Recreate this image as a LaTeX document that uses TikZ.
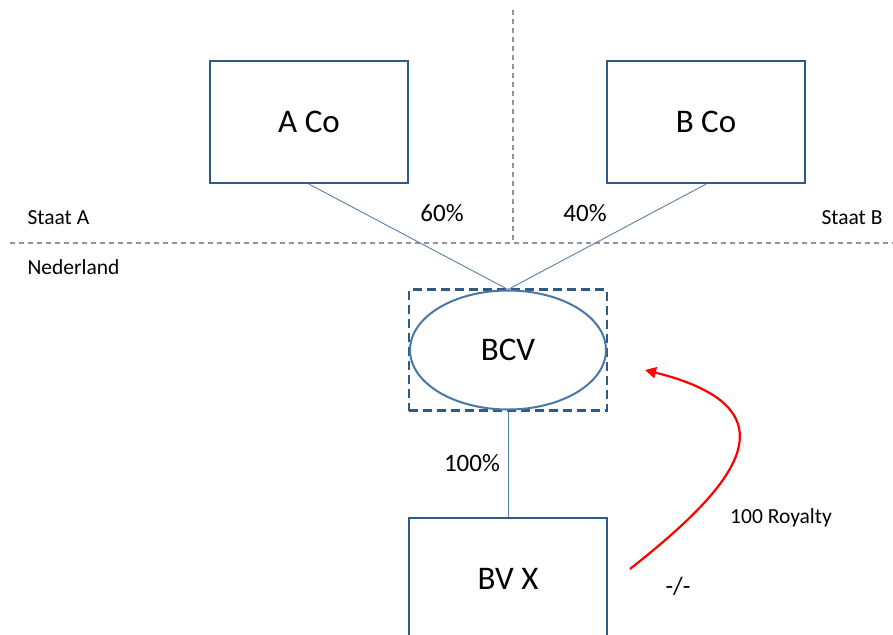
\documentclass[tikz,border=0pt]{standalone}
\usepackage{fontspec}
\setmainfont{Carlito}
\usetikzlibrary{arrows.meta,positioning,shapes}

\definecolor{boxblue}{HTML}{2F5A83}
\definecolor{ovalblue}{HTML}{4A77A6}
\definecolor{linkblue}{HTML}{5A7FA6}

\begin{document}
\begin{tikzpicture}[x=1pt,y=-1pt,thin]
\tikzstyle{company}=[draw=boxblue,line width=2.2pt,fill=white,minimum width=198pt,minimum height=122pt,font=\fontsize{33}{36}\selectfont]
\tikzstyle{border}=[draw=gray!85,line width=1.4pt,dash pattern=on 5pt off 4pt]
\tikzstyle{share}=[font=\fontsize{25}{28}\selectfont]
\tikzstyle{small}=[font=\fontsize{21.5}{24}\selectfont]
\tikzstyle{link}=[draw=linkblue,line width=0.9pt]

\useasboundingbox (0,0) rectangle (893,634);
\clip (0,0) rectangle (893,634);

% borders between states
\coordinate (T) at (513,10);
\coordinate (M) at (513,243);
\coordinate (L) at (10,243);
\coordinate (R) at (893,243);
\draw[border] (T) -- (M);
\draw[border] (L) -- (R);

\node[company]      (A) at (309,122) {A Co};
\node[company]      (B) at (706,122) {B Co};
\node[draw=boxblue,line width=2.2pt,dash pattern=on 9pt off 5pt,minimum width=198pt,minimum height=121pt] (C) at (508,350) {};
\node[ellipse,draw=ovalblue,line width=2pt,minimum width=196pt,minimum height=119pt,inner sep=0pt,font=\fontsize{33}{36}\selectfont] (BCV) at (C) {BCV};
\node[company]      (X) [below=105pt of C] {BV X};

\node[small,anchor=west] (SA) at (24,218) {Staat A};
\node[small,anchor=east] (SB) at (886,218) {Staat B};
\node[small,anchor=west] (NL) at (24,267) {Nederland};

\node[share] (PA) at (442,213) {60\%};
\node[share] (PB) at (585,213) {40\%};
\node[share] (PX) at (472,463) {100\%};

\path
(A.south) edge[link] (BCV.north)
(B.south) edge[link] (BCV.north)
(C.south) edge[link] (X.north)
;

% royalty flow
\coordinate (RS) at (630,569);
\coordinate (RE) at (645,370);
\draw[red,line width=2.2pt,-{Triangle[length=11pt,width=11pt]}] (RS) .. controls (730,490) and (805,410) .. (RE);
\node[small] (RO) at (781,518) {100 Royalty};
\node[share] (MI) at (678,586) {-/-};
\end{tikzpicture}
\end{document}
